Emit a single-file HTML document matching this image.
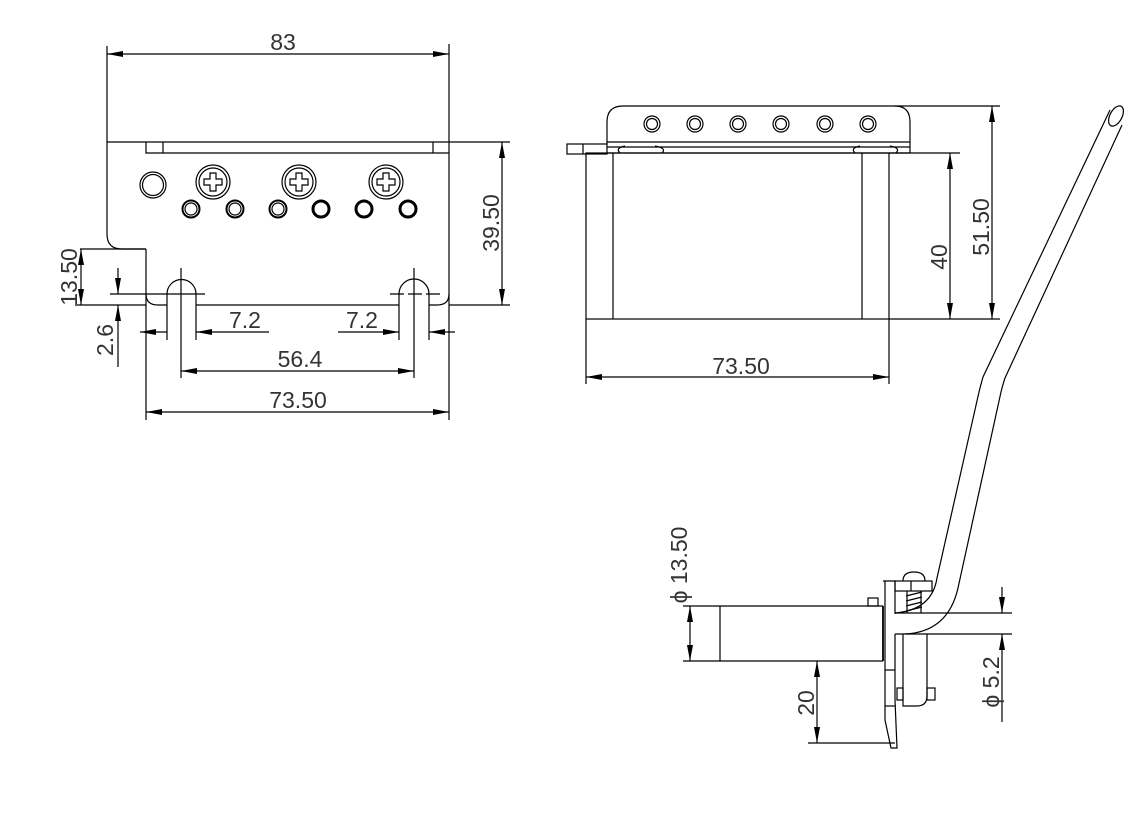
<!DOCTYPE html>
<html><head><meta charset="utf-8"><style>
html,body{margin:0;padding:0;background:#fff;}
svg{display:block;}
text{font-family:"Liberation Sans",sans-serif;font-size:23px;fill:#333;}
</style></head><body>
<svg width="1124" height="819" viewBox="0 0 1124 819" xmlns="http://www.w3.org/2000/svg">
<defs>
<marker id="a" viewBox="0 0 16 6" refX="16" refY="3" markerWidth="16" markerHeight="6" orient="auto-start-reverse" markerUnits="userSpaceOnUse"><path d="M0,0 L16,3 L0,6 z" fill="#000"/></marker>
</defs>
<g stroke="#000" stroke-width="1.2" fill="none">
<!-- LEFT VIEW -->
<line x1="107" y1="46" x2="107" y2="142"/><line x1="449" y1="44" x2="449" y2="142"/>
<line x1="107" y1="54" x2="449" y2="54" marker-start="url(#a)" marker-end="url(#a)"/>
<line x1="107" y1="142" x2="510" y2="142"/>
<path d="M146,142 V153 H449"/><line x1="163" y1="142" x2="163" y2="153"/><line x1="433" y1="142" x2="433" y2="153"/>
<path d="M107,142 V234 Q107,249 122,249 H146"/>
<line x1="80" y1="249" x2="146" y2="249"/>
<line x1="146" y1="249" x2="146" y2="420"/>
<path d="M146,294 Q146,305 158,305 H167"/>
<path d="M167,305 V294 A14.5,14.5 0 0 1 196,294 V340"/><line x1="167" y1="305" x2="167" y2="340"/>
<path d="M196,305 H399"/>
<path d="M399,340 V294 A15,15 0 0 1 429,294 V340"/>
<path d="M429,305 H437 Q449,305 449,294 V142"/>
<line x1="449" y1="294" x2="449" y2="420"/>
<line x1="75" y1="305" x2="146" y2="305"/>
<line x1="449" y1="305" x2="510" y2="305"/>
<!-- center marks -->
<line x1="181" y1="268" x2="181" y2="378"/><line x1="110" y1="294" x2="205" y2="294"/>
<line x1="414" y1="268" x2="414" y2="378"/><line x1="390" y1="294" x2="440" y2="294" stroke-dasharray="14,4"/>
<!-- dims -->
<line x1="502" y1="142" x2="502" y2="305" marker-start="url(#a)" marker-end="url(#a)"/>
<line x1="81" y1="249" x2="81" y2="305" marker-start="url(#a)" marker-end="url(#a)"/>
<line x1="118" y1="268" x2="118" y2="294" marker-end="url(#a)"/>
<line x1="118" y1="367" x2="118" y2="305" marker-end="url(#a)"/>
<line x1="140" y1="332" x2="167" y2="332" marker-start="url(#a)"/>
<line x1="196" y1="332" x2="269" y2="332" marker-start="url(#a)"/>
<line x1="338" y1="332" x2="399" y2="332" marker-end="url(#a)"/>
<line x1="429" y1="332" x2="455" y2="332" marker-start="url(#a)"/>
<line x1="181" y1="371" x2="414" y2="371" marker-start="url(#a)" marker-end="url(#a)"/>
<line x1="146" y1="412" x2="449" y2="412" marker-start="url(#a)" marker-end="url(#a)"/>
<!-- holes -->
<circle cx="153" cy="185" r="13"/><circle cx="153" cy="185" r="10.5"/>
<g id="sc"><circle cx="213" cy="182" r="17"/><circle cx="213" cy="182" r="14"/>
<path d="M210,173 h6 v6 h6 v6 h-6 v6 h-6 v-6 h-6 v-6 h6 z"/></g>
<use href="#sc" x="86"/><use href="#sc" x="173"/>
<g stroke-width="2">
<circle cx="191" cy="209" r="8.5"/><circle cx="235" cy="209" r="8.5"/><circle cx="278" cy="209" r="8.5"/>
<circle cx="321" cy="209" r="8" stroke-width="3"/><circle cx="364" cy="209" r="8" stroke-width="3"/><circle cx="408" cy="209" r="8" stroke-width="3"/>
</g>
<circle cx="191" cy="209" r="6"/><circle cx="235" cy="209" r="6"/><circle cx="278" cy="209" r="6"/>

<!-- MIDDLE VIEW -->
<path d="M607,144 V122 Q607,106 623,106 H895 Q910,106 910,122 V153"/>
<line x1="895" y1="106" x2="1000" y2="106"/>
<rect x="567" y="144" width="40" height="10"/><line x1="583" y1="144" x2="583" y2="154"/>
<line x1="607" y1="142" x2="910" y2="142"/><line x1="607" y1="147" x2="910" y2="147"/>
<path d="M620,153 Q615,148 625,146 M662,153 Q667,148 655,146 M855,153 Q850,148 860,146 M896,153 Q901,148 890,146"/>
<rect x="586" y="153" width="303" height="166"/>
<line x1="607" y1="153" x2="910" y2="153"/>
<line x1="613" y1="153" x2="613" y2="319"/><line x1="862" y1="153" x2="862" y2="319"/>
<line x1="586" y1="319" x2="586" y2="384"/><line x1="889" y1="319" x2="889" y2="384"/>
<line x1="586" y1="377" x2="889" y2="377" marker-start="url(#a)" marker-end="url(#a)"/>
<line x1="889" y1="153" x2="960" y2="153"/><line x1="889" y1="319" x2="1000" y2="319"/>
<line x1="950" y1="153" x2="950" y2="319" marker-start="url(#a)" marker-end="url(#a)"/>
<line x1="992" y1="106" x2="992" y2="319" marker-start="url(#a)" marker-end="url(#a)"/>
<g><circle cx="652" cy="124" r="8"/><circle cx="652" cy="124" r="5.5"/>
<circle cx="695" cy="124" r="8"/><circle cx="695" cy="124" r="5.5"/>
<circle cx="738" cy="124" r="8"/><circle cx="738" cy="124" r="5.5"/>
<circle cx="781" cy="124" r="8"/><circle cx="781" cy="124" r="5.5"/>
<circle cx="825" cy="124" r="8"/><circle cx="825" cy="124" r="5.5"/>
<circle cx="868" cy="124" r="8"/><circle cx="868" cy="124" r="5.5"/></g>

<!-- ARM -->
<path d="M1110,110 L983,377 Q981,384 979,392 L937,578 Q932,610 895,613"/>
<path d="M1122,125 L1005,378 Q1003,384 1001,392 L958,588 Q948,632 905,634"/>
<ellipse cx="1116" cy="116" rx="11" ry="6" transform="rotate(-62 1116 116)"/>
<!-- BOTTOM VIEW -->
<line x1="683" y1="606" x2="883" y2="606"/>
<line x1="683" y1="661" x2="883" y2="661"/>
<line x1="720" y1="606" x2="720" y2="661"/>
<rect x="868" y="598" width="10" height="8"/>
<line x1="883" y1="606" x2="883" y2="661" stroke-width="1.8"/>
<path d="M883,581 H895 V614 M895,634 V700 L897,748 H891 L885,720 V581"/>
<line x1="885" y1="670" x2="895" y2="670"/><line x1="885" y1="706" x2="895" y2="706"/>
<line x1="895" y1="613" x2="1012" y2="613"/><line x1="895" y1="634" x2="1012" y2="634"/>
<rect x="895" y="581" width="37" height="10"/><line x1="911" y1="581" x2="911" y2="591"/>
<path d="M903,581 Q903,572 914,572 Q925,572 925,581"/>
<path d="M906,596 L922,592 M906,601 L922,597 M906,606 L922,602 M906,611 L922,607 M907,591 V613 M921,591 V613"/>
<path d="M903,634 V706 H917 Q927,706 927,696 V634"/>
<rect x="897" y="688" width="6" height="12"/><rect x="927" y="688" width="8" height="12"/>
<line x1="690" y1="606" x2="690" y2="661" marker-start="url(#a)" marker-end="url(#a)"/>
<line x1="817" y1="661" x2="817" y2="743" marker-start="url(#a)" marker-end="url(#a)"/>
<line x1="808" y1="743" x2="895" y2="743"/>
<line x1="1002" y1="587" x2="1002" y2="613" marker-end="url(#a)"/>
<line x1="1002" y1="722" x2="1002" y2="634" marker-end="url(#a)"/>
</g>
<text x="283" y="50" text-anchor="middle">83</text>
<text transform="translate(499,223) rotate(-90)" text-anchor="middle">39.50</text>
<text transform="translate(77,277) rotate(-90)" text-anchor="middle">13.50</text>
<text transform="translate(113,340) rotate(-90)" text-anchor="middle">2.6</text>
<text x="245" y="328" text-anchor="middle">7.2</text>
<text x="362" y="328" text-anchor="middle">7.2</text>
<text x="300" y="367" text-anchor="middle">56.4</text>
<text x="298" y="408" text-anchor="middle">73.50</text>
<text x="741" y="374" text-anchor="middle">73.50</text>
<text transform="translate(947,257) rotate(-90)" text-anchor="middle">40</text>
<text transform="translate(989,227) rotate(-90)" text-anchor="middle">51.50</text>
<text transform="translate(687,565) rotate(-90)" text-anchor="middle">ϕ 13.50</text>
<text transform="translate(814,703) rotate(-90)" text-anchor="middle">20</text>
<text transform="translate(999,682) rotate(-90)" text-anchor="middle">ϕ 5.2</text>
</svg>
</body></html>
